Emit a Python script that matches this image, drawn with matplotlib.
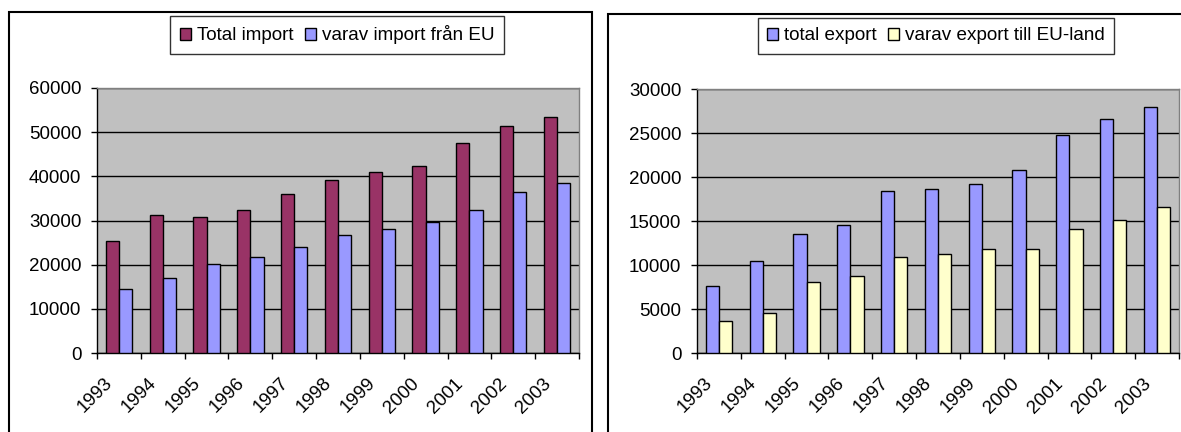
import matplotlib
matplotlib.use("Agg")
import matplotlib.pyplot as plt
import matplotlib.patches as mpatches
import numpy as np

plt.rcParams['font.family'] = ['Liberation Sans', 'DejaVu Sans']

years = ["1993", "1994", "1995", "1996", "1997", "1998", "1999", "2000", "2001", "2002", "2003"]

import_total = [25300, 31200, 30900, 32300, 36100, 39200, 40900, 42400, 47600, 51400, 53400]
import_eu = [14600, 17000, 20100, 21800, 23900, 26700, 28100, 29600, 32300, 36500, 38600]

export_total = [7600, 10400, 13500, 14500, 18400, 18600, 19200, 20800, 24800, 26600, 27900]
export_eu = [3600, 4500, 8100, 8800, 10900, 11250, 11800, 11800, 14100, 15100, 16600]

W, H = 1181, 432
fig = plt.figure(figsize=(W / 100, H / 100), dpi=100)


def panel(x0, x1, y_top, ax_box, total, eu, labels, colors, ymax, ystep, leg_center):
    # outer frame of the chart
    fig.patches.append(mpatches.Rectangle((x0 / W, -0.1), (x1 - x0) / W, 1.1 - y_top / H,
                                          transform=fig.transFigure, fill=False,
                                          edgecolor='black', linewidth=1.5))
    l, t, r, b = ax_box
    ax = fig.add_axes([l / W, 1 - b / H, (r - l) / W, (b - t) / H])
    ax.set_facecolor('#C0C0C0')
    x = np.arange(len(years))
    bw = 0.3
    b1 = ax.bar(x - bw / 2, total, bw, color=colors[0], edgecolor='black', linewidth=1, label=labels[0], zorder=3)
    b2 = ax.bar(x + bw / 2, eu, bw, color=colors[1], edgecolor='black', linewidth=1, label=labels[1], zorder=3)
    ax.set_xlim(-0.5, len(years) - 0.5)
    ax.set_ylim(0, ymax)
    ax.set_yticks(np.arange(0, ymax + 1, ystep))
    ax.yaxis.grid(True, color='black', linewidth=1, zorder=1)
    ax.set_axisbelow(True)
    ax.set_xticks(np.arange(-0.5, len(years), 1))
    ax.set_xticklabels([])
    # labels end a little left of the category centre
    ax.set_xticks(x - 0.2, minor=True)
    ax.set_xticklabels(years, minor=True, rotation=45, ha='right', va='center', rotation_mode='anchor')
    ax.tick_params(axis='x', which='minor', length=0, pad=20, labelsize=13.5)
    ax.tick_params(axis='x', which='major', length=4.3, direction='out', width=1)
    ax.tick_params(axis='y', length=4.3, direction='out', width=1, labelsize=13.5, pad=7)
    for s in ['left', 'bottom']:
        ax.spines[s].set_color('black')
        ax.spines[s].set_linewidth(1)
    for s in ['top', 'right']:
        ax.spines[s].set_color('#808080')
        ax.spines[s].set_linewidth(1)
    fig.legend(handles=[b1, b2], loc='center', bbox_to_anchor=(leg_center[0] / W, 1 - leg_center[1] / H),
               ncol=2, fontsize=13.6, frameon=True, fancybox=False, edgecolor='black',
               handlelength=0.6, handleheight=0.6, handletextpad=0.3, columnspacing=0.6,
               borderpad=0.5, borderaxespad=0)
    return ax


panel(9, 592, 12, (97, 88, 579, 353), import_total, import_eu,
      ["Total import", "varav import från EU"], ['#993366', '#9999FF'],
      60000, 10000, (337, 35))
panel(608, 1300, 14, (697, 89, 1179, 353), export_total, export_eu,
      ["total export", "varav export till EU-land"], ['#9999FF', '#FFFFCC'],
      30000, 5000, (936, 36))

fig.savefig("out.png", dpi=100, facecolor='white')
